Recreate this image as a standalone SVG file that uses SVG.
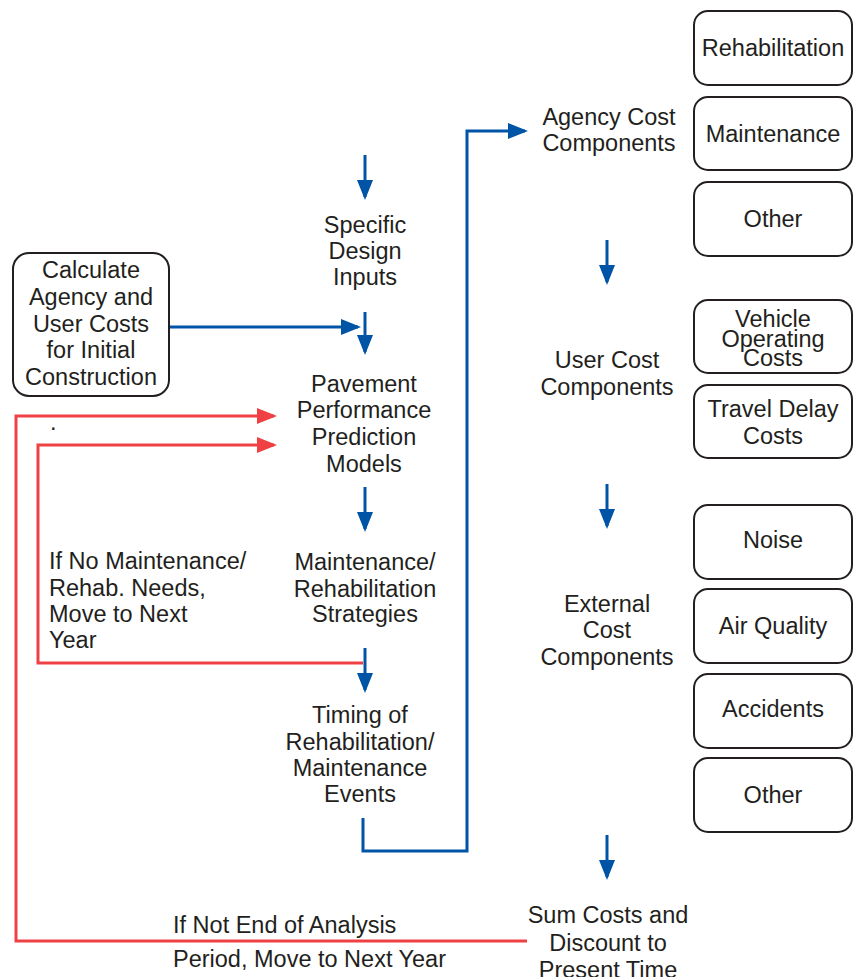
<svg xmlns="http://www.w3.org/2000/svg" width="855" height="977" viewBox="0 0 855 977">
<defs>
<style>
text{font-family:"Liberation Sans",Arial,sans-serif;font-size:23.5px;fill:#231f20}
.c{text-anchor:middle}
.box{fill:#fff;stroke:#231f20;stroke-width:2}
.blue{fill:none;stroke:#0054a6;stroke-width:3}
.red{fill:none;stroke:#ef4044;stroke-width:3}
</style>
<marker id="ab" markerUnits="userSpaceOnUse" viewBox="0 0 20 16" markerWidth="20" markerHeight="16" refX="17" refY="8" orient="auto"><path d="M0,0 L20,8 L0,16 z" fill="#0054a6"/></marker>
<marker id="ar" markerUnits="userSpaceOnUse" viewBox="0 0 20 16" markerWidth="20" markerHeight="16" refX="17" refY="8" orient="auto"><path d="M0,0 L20,8 L0,16 z" fill="#ef4044"/></marker>
</defs>
<rect width="855" height="977" fill="#fff"/>

<g id="connectors">
<line class="blue" x1="365" y1="155" x2="365" y2="197" marker-end="url(#ab)"/>
<line class="blue" x1="170" y1="327" x2="358" y2="327" marker-end="url(#ab)"/>
<line class="blue" x1="365" y1="312" x2="365" y2="352" marker-end="url(#ab)"/>
<line class="blue" x1="365" y1="487" x2="365" y2="529" marker-end="url(#ab)"/>
<line class="blue" x1="365" y1="648" x2="365" y2="690" marker-end="url(#ab)"/>
<polyline class="blue" points="363,818 363,851 467,851 467,131 525,131" marker-end="url(#ab)"/>
<line class="blue" x1="607" y1="240" x2="607" y2="282" marker-end="url(#ab)"/>
<line class="blue" x1="607" y1="484" x2="607" y2="526" marker-end="url(#ab)"/>
<line class="blue" x1="607" y1="835" x2="607" y2="877" marker-end="url(#ab)"/>
<polyline class="red" points="527,941 16,941 16,416 274,416" marker-end="url(#ar)"/>
<polyline class="red" points="363,663 38,663 38,445 274,445" marker-end="url(#ar)"/>
</g>

<g id="n-calc">
<rect class="box" x="13" y="253" width="156" height="143" rx="16"/>
<text class="c" x="91" y="278">Calculate</text>
<text class="c" x="91" y="305">Agency and</text>
<text class="c" x="91" y="332">User Costs</text>
<text class="c" x="91" y="358">for Initial</text>
<text class="c" x="91" y="385">Construction</text>
</g>

<g id="n-specific">
<text class="c" x="365" y="233">Specific</text>
<text class="c" x="365" y="259">Design</text>
<text class="c" x="365" y="285">Inputs</text>
</g>

<g id="n-pavement">
<text class="c" x="364" y="392">Pavement</text>
<text class="c" x="364" y="418">Performance</text>
<text class="c" x="364" y="445">Prediction</text>
<text class="c" x="364" y="472">Models</text>
</g>

<g id="n-strategies">
<text class="c" x="365" y="570">Maintenance/</text>
<text class="c" x="365" y="597">Rehabilitation</text>
<text class="c" x="365" y="622">Strategies</text>
</g>

<g id="n-timing">
<text class="c" x="360" y="723">Timing of</text>
<text class="c" x="360" y="750">Rehabilitation/</text>
<text class="c" x="360" y="776">Maintenance</text>
<text class="c" x="360" y="802">Events</text>
</g>

<g id="lbl-no-maint">
<text x="49" y="569">If No Maintenance/</text>
<text x="49" y="596">Rehab. Needs,</text>
<text x="49" y="622">Move to Next</text>
<text x="49" y="648">Year</text>
<text x="50" y="430">.</text>
</g>

<g id="lbl-not-end">
<text x="173" y="933">If Not End of Analysis</text>
<text x="173" y="967">Period, Move to Next Year</text>
</g>

<g id="n-agency">
<text class="c" x="609" y="125">Agency Cost</text>
<text class="c" x="609" y="151">Components</text>
</g>

<g id="n-user">
<text class="c" x="607" y="368">User Cost</text>
<text class="c" x="607" y="395">Components</text>
</g>

<g id="n-external">
<text class="c" x="607" y="612">External</text>
<text class="c" x="607" y="638">Cost</text>
<text class="c" x="607" y="665">Components</text>
</g>

<g id="n-sum">
<text class="c" x="608" y="923">Sum Costs and</text>
<text class="c" x="608" y="951">Discount to</text>
<text class="c" x="608" y="978">Present Time</text>
</g>

<g id="b-rehab">
<rect class="box" x="694" y="11" width="158" height="74" rx="14"/>
<text class="c" x="773" y="56">Rehabilitation</text>
</g>
<g id="b-maint">
<rect class="box" x="694" y="97" width="158" height="73" rx="14"/>
<text class="c" x="773" y="142">Maintenance</text>
</g>
<g id="b-other1">
<rect class="box" x="694" y="182" width="158" height="74" rx="14"/>
<text class="c" x="773" y="227">Other</text>
</g>
<g id="b-vehicle">
<rect class="box" x="694" y="300" width="158" height="73" rx="14"/>
<text class="c" x="773" y="327">Vehicle</text>
<text class="c" x="773" y="347">Operating</text>
<text class="c" x="773" y="366">Costs</text>
</g>
<g id="b-travel">
<rect class="box" x="694" y="385" width="158" height="73" rx="14"/>
<text class="c" x="773" y="417">Travel Delay</text>
<text class="c" x="773" y="444">Costs</text>
</g>
<g id="b-noise">
<rect class="box" x="694" y="505" width="158" height="74" rx="14"/>
<text class="c" x="773" y="548">Noise</text>
</g>
<g id="b-air">
<rect class="box" x="694" y="589" width="158" height="74" rx="14"/>
<text class="c" x="773" y="634">Air Quality</text>
</g>
<g id="b-accidents">
<rect class="box" x="694" y="674" width="158" height="74" rx="14"/>
<text class="c" x="773" y="717">Accidents</text>
</g>
<g id="b-other2">
<rect class="box" x="694" y="758" width="158" height="74" rx="14"/>
<text class="c" x="773" y="803">Other</text>
</g>
</svg>
